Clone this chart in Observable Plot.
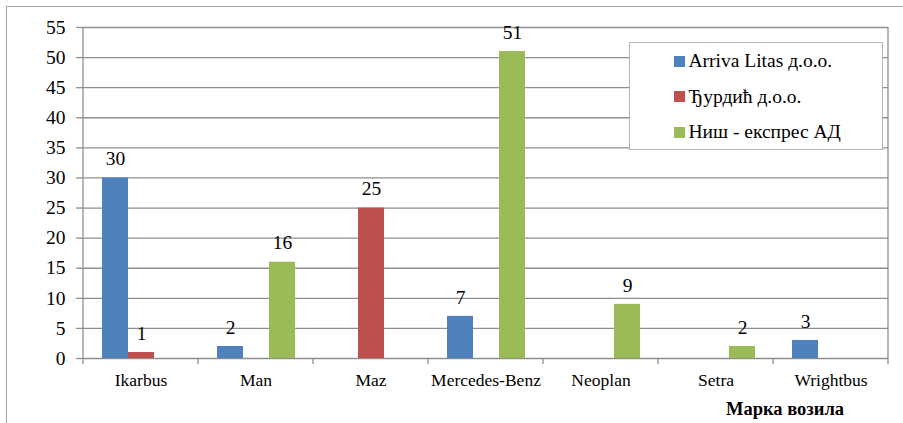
<!DOCTYPE html>
<html><head><meta charset="utf-8">
<script src="https://cdn.jsdelivr.net/npm/d3@7"></script>
<script src="https://cdn.jsdelivr.net/npm/@observablehq/plot@0.6"></script>
<style>
html,body{margin:0;padding:0;background:#fff;}
body{width:903px;height:423px;position:relative;overflow:hidden;font-family:"Liberation Serif",Tinos,"Times New Roman",Times,"DejaVu Serif",serif;color:#000;}
#outer{position:absolute;left:6px;top:6px;width:1000px;height:1000px;border:1.5px solid #a3a3a3;box-sizing:border-box;}
#chart{position:absolute;left:0;top:0;}
#legend{position:absolute;left:629px;top:42px;width:254px;height:108px;border:1.5px solid #b5b5b5;background:#fff;box-sizing:border-box;}
.sw{position:absolute;width:11px;height:11px;}
.lt{position:absolute;font-size:19.5px;line-height:20px;white-space:nowrap;}
#xtitle{position:absolute;left:685px;width:200px;top:400px;text-align:center;font-weight:bold;font-size:18.5px;line-height:19px;}
svg text{font-family:"Liberation Serif",Tinos,"Times New Roman",Times,"DejaVu Serif",serif;}
</style></head>
<body>
<div id="outer"></div>
<div id="chart"></div>
<div id="legend"></div>
<div id="xtitle"></div>
<script>
const categories = ["Ikarbus", "Man", "Maz", "Mercedes-Benz", "Neoplan", "Setra", "Wrightbus"];
const series = ["Arriva Litas д.о.о.", "Ђурдић д.о.о.", "Ниш - експрес АД"];
const arriva = [30, 2, 0, 7, 0, 0, 3];
const djurdjic = [1, 0, 25, 0, 0, 0, 0];
const nisExpres = [0, 16, 0, 51, 9, 2, 0];
const colors = ["#4F81BD", "#C0504D", "#9BBB59"];
const yTicks = [0, 5, 10, 15, 20, 25, 30, 35, 40, 45, 50, 55];
const xTitle = "Марка возила";

const seriesValues = [arriva, djurdjic, nisExpres];
const rows = [];
categories.forEach((c, i) => series.forEach((s, j) => rows.push({cat: c, series: s, value: seriesValues[j][i]})));

const FONT = "'Liberation Serif', Tinos, 'Times New Roman', Times, 'DejaVu Serif', serif";
const gridColor = "#8e8e8e";
const chart = Plot.plot({
  width: 903, height: 423,
  marginLeft: 81, marginRight: 14, marginTop: 27, marginBottom: 65,
  style: {fontFamily: FONT, fontSize: "19px", color: "#000", background: "transparent"},
  fx: {domain: categories, padding: 0, label: null},
  x: {domain: series, paddingInner: 0, paddingOuter: 0.71, axis: null},
  y: {domain: [0, 55], label: null},
  color: {domain: series, range: colors},
  marks: [
    Plot.gridY(yTicks, {stroke: gridColor, strokeOpacity: 1, strokeWidth: 1.3}),
    Plot.axisY(yTicks, {tickSize: 7, tickPadding: 11, fontSize: 19.5, fontFamily: FONT, stroke: gridColor, strokeWidth: 1.3, label: null}),
    Plot.axisFx({anchor: "bottom", tickSize: 0, tickPadding: 15, fontSize: 17.5, fontFamily: FONT, label: null}),
    Plot.barY(rows, {filter: d => d.value > 0, fx: "cat", x: "series", y: "value", fill: "series"}),
    Plot.text(rows, {filter: d => d.value > 0, fx: "cat", x: "series", y: "value", text: d => String(d.value), dy: -19, fontSize: 19.5, fontFamily: FONT, fill: "#000"})
  ]
});
document.getElementById("chart").appendChild(chart);

// axis lines, right border and category-boundary ticks from the plot's own scales
const fx = chart.scale("fx"), y = chart.scale("y");
const y0 = y.apply(0), yTop = y.apply(55);
const left = fx.apply(categories[0]);
const right = fx.apply(categories[categories.length - 1]) + fx.bandwidth;
const g = d3.select(chart).append("g").attr("stroke", gridColor).attr("stroke-width", 1.3);
g.append("line").attr("x1", left).attr("x2", left).attr("y1", yTop).attr("y2", y0);
g.append("line").attr("x1", right).attr("x2", right).attr("y1", yTop).attr("y2", y0);
const bounds = categories.map(c => fx.apply(c)).concat([right]);
bounds.forEach(b => g.append("line").attr("x1", b).attr("x2", b).attr("y1", y0).attr("y2", y0 + 6));

// legend
const leg = document.getElementById("legend");
series.forEach((s, j) => {
  const top = 54.5 + j * 35.5 - 42 - 1.5;
  const sw = document.createElement("div");
  sw.className = "sw"; sw.style.background = colors[j];
  sw.style.left = (674 - 629 - 1.5) + "px"; sw.style.top = (top + 1.5) + "px";
  leg.appendChild(sw);
  const t = document.createElement("div");
  t.className = "lt"; t.textContent = s;
  t.style.left = (689 - 629 - 1.5) + "px"; t.style.top = (top - 3) + "px";
  leg.appendChild(t);
});
document.getElementById("xtitle").textContent = xTitle;
</script>
</body></html>
